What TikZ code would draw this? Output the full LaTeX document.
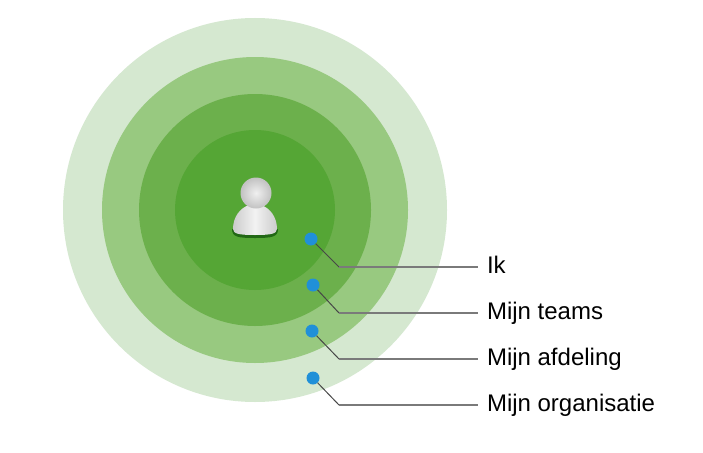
\documentclass[tikz,border=0pt]{standalone}
\usepackage{fontspec}
\setmainfont{Liberation Sans}
\definecolor{ringA}{HTML}{D5E8D0}
\definecolor{ringB}{HTML}{98C980}
\definecolor{ringC}{HTML}{6CB04C}
\definecolor{ringD}{HTML}{55A635}
\definecolor{dotblue}{HTML}{2090D8}
\tikzset{
  ring/.style={circle,draw=none,inner sep=0pt},
  bluedot/.style={circle,fill=dotblue,draw=none,inner sep=0pt,minimum size=13pt},
  lab/.style={anchor=west,inner xsep=9pt,inner ysep=0pt,outer sep=0pt,text height=17.2pt,text depth=5pt,font=\fontsize{24pt}{26pt}\selectfont,text=black},
  slantline/.style={draw=black!72,line width=1pt},
  runline/.style={draw=black!52,line width=1.2pt},
}
\begin{document}
\begin{tikzpicture}[x=1pt,y=-1pt]
\useasboundingbox (0,0) rectangle (703,452);
\fill[white] (0,0) rectangle (703,452);
\node[ring,fill=ringA,minimum size=384pt] (r1) at (255,210) {};
\node[ring,fill=ringB,minimum size=306pt] (r2) at (255,210) {};
\node[ring,fill=ringC,minimum size=232pt] (r3) at (255,210) {};
\node[ring,fill=ringD,minimum size=160pt] (r4) at (255,210) {};
% person icon
\fill[black!75!green,opacity=.6] (232,229) .. controls (232,237) and (238,238) .. (255,238) .. controls (272,238) and (278,237) .. (278,229) -- cycle;
\shade[left color=white!80!black,right color=white!80!black,middle color=white!95!black] (233,229) .. controls (233,217) and (240,208) .. (249,205) -- (261,205) .. controls (270,208) and (277,217) .. (277,229) .. controls (277,234) and (270,235) .. (255,235) .. controls (240,235) and (233,234) .. (233,229) -- cycle;
\shade[inner color=white!94!black,outer color=white!76!black] (256,193) circle (15.5pt);
% dots
\node[bluedot] (d1) at (311,239) {};
\node[bluedot] (d2) at (313,285) {};
\node[bluedot] (d3) at (312,331) {};
\node[bluedot] (d4) at (313,378) {};
\coordinate (b1) at (339,267);
\coordinate (b2) at (339,313);
\coordinate (b3) at (339,359);
\coordinate (b4) at (339,405);
\node[lab] (l1) at (478,267) {Ik};
\node[lab] (l2) at (478,313) {Mijn teams};
\node[lab] (l3) at (478,359) {Mijn afdeling};
\node[lab] (l4) at (478,405) {Mijn organisatie};
\foreach \i in {1,2,3,4}{
  \draw[slantline] (d\i) -- (b\i);
  \draw[runline] (b\i) -- (l\i.west);
}
\end{tikzpicture}
\end{document}
